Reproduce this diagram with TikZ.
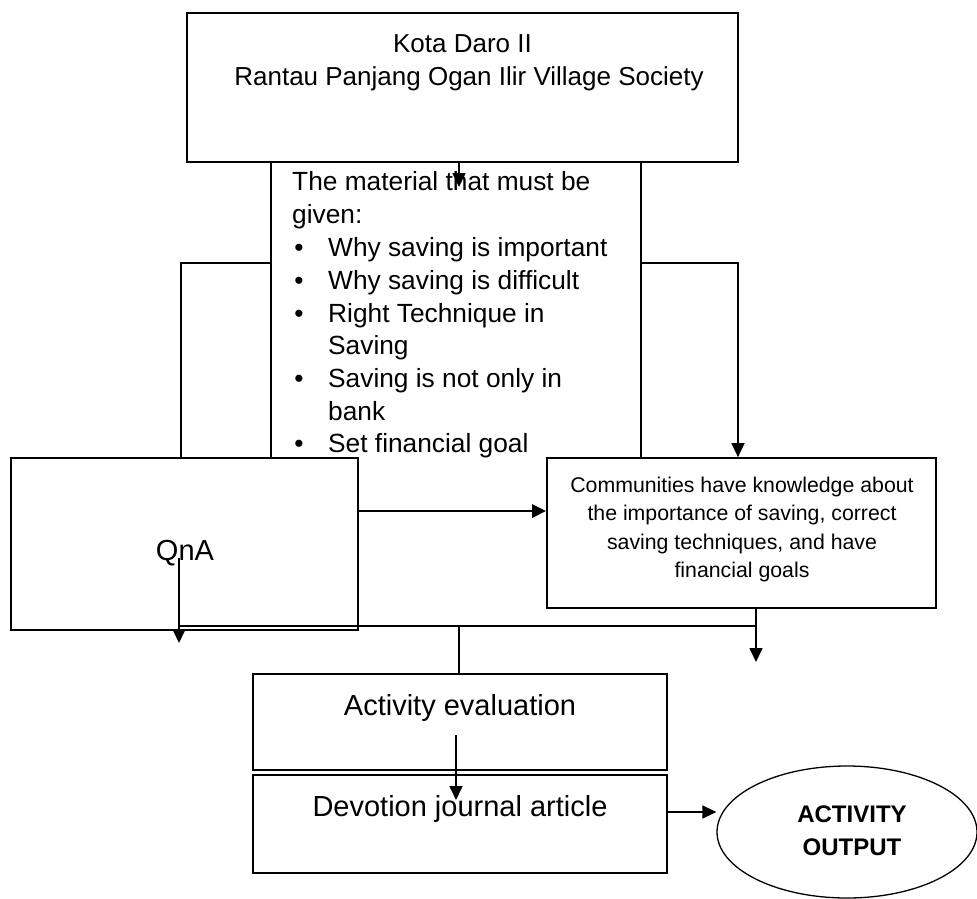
\documentclass[tikz,border=0pt]{standalone}
\usepackage{fontspec}
\setmainfont{Liberation Sans}
\usetikzlibrary{arrows.meta,shapes.geometric}
\newcommand\fsTop{\fontsize{26}{33}\selectfont}
\newcommand\fsMat{\fontsize{26.3}{33}\selectfont}
\newcommand\fsCom{\fontsize{21.3}{28}\selectfont}
\newcommand\fsBig{\fontsize{29}{34}\selectfont}
\newcommand\fsOut{\fontsize{24}{30}\selectfont\bfseries}
\begin{document}
\begin{tikzpicture}[x=1pt,y=-1pt,
  boxnode/.style={draw, line width=1.7pt, inner sep=0pt, rectangle},
  plainnode/.style={inner sep=0pt, rectangle},
  txt/.style={inner sep=0pt, anchor=base west, font=\fsMat},
  ctxt/.style={inner sep=0pt, anchor=base},
  conn/.style={line width=1.6pt},
  arr/.style={line width=1.6pt, -{Triangle[length=14pt,width=13pt]}}]
\useasboundingbox (0,0) rectangle (977,898);
\clip (0,0) rectangle (977,898);
\fill[white] (0,0) rectangle (977,898);

% boxes
\node[boxnode, minimum width=551pt, minimum height=149pt] (top) at (462.5,87.5) {};
\node[plainnode, minimum width=370pt, minimum height=296pt] (mat) at (456,310) {};
\node[boxnode, minimum width=347pt, minimum height=172pt] (qna) at (184.5,544) {};
\node[boxnode, minimum width=389pt, minimum height=150pt] (comm) at (741.5,533) {};
\node[boxnode, minimum width=414pt, minimum height=96pt] (act) at (460,722) {};
\node[boxnode, minimum width=414pt, minimum height=98pt] (dev) at (460,824) {};
\node[draw, line width=1.3pt, ellipse, inner sep=0pt, minimum width=260pt, minimum height=132pt] (out) at (847,832) {};

% material box side edges
\draw[conn] (mat.north west) -- (mat.south west);
\draw[conn] (mat.north east) -- (mat.south east);

% top texts
\node[ctxt, font=\fsTop] (t1) at (462.5,52) {Kota Daro II};
\node[ctxt, font=\fsTop] (t2) at (469,85) {Rantau Panjang Ogan Ilir Village Society};

% material texts
\node[txt] (m1) at (292,190) {The material that must be};
\node[txt] (m2) at (292,223) {given:};
\node[ctxt, font=\fsMat] (b1) at (299,256) {•};
\node[txt] (m3) at (328,256) {Why saving is important};
\node[ctxt, font=\fsMat] (b2) at (299,289) {•};
\node[txt] (m4) at (328,289) {Why saving is difficult};
\node[ctxt, font=\fsMat] (b3) at (299,322) {•};
\node[txt] (m5) at (328,322) {Right Technique in};
\node[txt] (m6) at (328,354) {Saving};
\node[ctxt, font=\fsMat] (b4) at (299,387) {•};
\node[txt] (m7) at (328,387) {Saving is not only in};
\node[txt] (m8) at (328,420) {bank};
\node[ctxt, font=\fsMat] (b5) at (299,452) {•};
\node[txt] (m9) at (328,452) {Set financial goal};

% communities text
\node[ctxt, font=\fsCom] (c1) at (742,492) {Communities have knowledge about};
\node[ctxt, font=\fsCom] (c2) at (742,520.5) {the importance of saving, correct};
\node[ctxt, font=\fsCom] (c3) at (742,549) {saving techniques, and have};
\node[ctxt, font=\fsCom] (c4) at (742,577.5) {financial goals};

% other texts
\node[ctxt, font=\fsBig] (qt) at (185,560) {QnA};
\node[ctxt, font=\fsBig] (at) at (460,715) {Activity evaluation};
\node[ctxt, font=\fsBig] (dt) at (460,816) {Devotion journal article};
\node[ctxt, font=\fsOut] (o1) at (852,822) {ACTIVITY};
\node[ctxt, font=\fsOut] (o2) at (852,855) {OUTPUT};

% coordinates
\coordinate (A0) at (459,187);
\coordinate (L1) at (181,263);
\coordinate (R1) at (738,263);
\coordinate (QC) at (0,511);
\coordinate (B1) at (179,558);
\coordinate (B2) at (179,643);
\coordinate (H1) at (179,626);
\coordinate (H2) at (756,626);
\coordinate (H3) at (459,626);
\coordinate (C2) at (756,662);
\coordinate (E1) at (456,735);
\coordinate (E2) at (456,800);
\coordinate (D1) at (0,812);

% connectors
\draw[arr] (top.south -| A0) -- (A0);
\draw[conn] (mat.west |- L1) -- (L1) -- (L1 |- qna.north);
\draw[arr] (mat.east |- R1) -- (R1) -- (R1 |- comm.north);
\draw[arr, line width=2.8pt] (qna.east |- QC) -- (comm.west |- QC);
\draw[arr] (B1) -- (B2);
\draw[line width=2.4pt] (H1) -- (H2);
\draw[arr] (comm.south -| C2) -- (C2);
\draw[conn] (H3) -- (act.north -| H3);
\draw[arr] (E1) -- (E2);
\draw[arr] (dev.east |- D1) -- (out.west |- D1);
\end{tikzpicture}
\end{document}
